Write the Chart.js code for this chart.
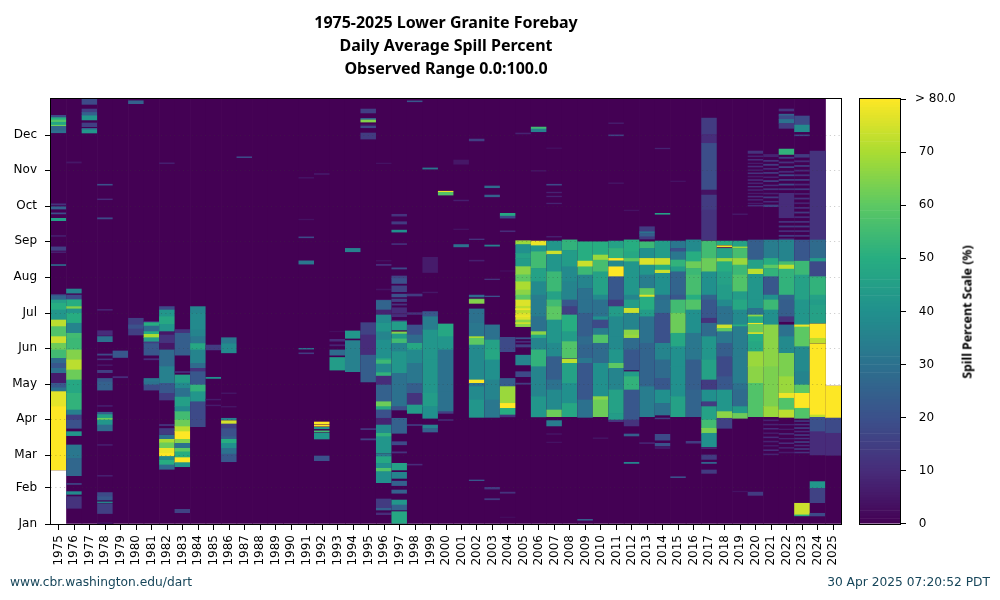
<!DOCTYPE html>
<html>
<head>
<meta charset="utf-8">
<title>Lower Granite Forebay Spill Percent</title>
<script src="https://cdn.jsdelivr.net/npm/chart.js@4"></script>
<style>
    html, body { margin: 0; background: #fff; }
    #wrap { position: relative; width: 1000px; height: 600px; overflow: hidden; }
    canvas { position: absolute; }
    .foot { position: absolute; top: 574.5px; font: 12.25px "DejaVu Sans", sans-serif; color: #17465a; white-space: nowrap; }
    #scaleTitle { position: absolute; left: 967px; top: 311.5px; transform: translate(-50%, -50%) rotate(-90deg); font: bold 12.3px "Noto Sans", sans-serif; white-space: nowrap; }
</style>
</head>
<body>
<div id="wrap">
    <canvas id="heatmap" style="left:0;top:0;width:1000px;height:600px"></canvas>
    <canvas id="scaleBar" style="left:850px;top:80px;width:150px;height:460px"></canvas>
    <div id="scaleTitle">Spill Percent Scale (%)</div>
    <div class="foot" style="left:10px">www.cbr.washington.edu/dart</div>
    <div class="foot" style="right:10px">30 Apr 2025 07:20:52 PDT</div>
</div>
<script>
const titleLines = ["1975-2025 Lower Granite Forebay", "Daily Average Spill Percent", "Observed Range 0.0:100.0"];
const monthLabels = ["Jan", "Feb", "Mar", "Apr", "May", "Jun", "Jul", "Aug", "Sep", "Oct", "Nov", "Dec"];
const monthStarts = [0, 31, 59, 90, 120, 151, 181, 212, 243, 273, 304, 334];
const scaleTicks = [0, 10, 20, 30, 40, 50, 60, 70, 80];
const years = ["1975", "1976", "1977", "1978", "1979", "1980", "1981", "1982", "1983", "1984", "1985", "1986", "1987", "1988", "1989", "1990", "1991", "1992", "1993", "1994", "1995", "1996", "1997", "1998", "1999", "2000", "2001", "2002", "2003", "2004", "2005", "2006", "2007", "2008", "2009", "2010", "2011", "2012", "2013", "2014", "2015", "2016", "2017", "2018", "2019", "2020", "2021", "2022", "2023", "2024", "2025"];

// first and last day with a record, only 1975 and 2025 are short
const recordFrom = { 1975: 46.4 };
const recordTo = { 2025: 118.5 };

// each run is [from day, to day, spill percent], days not listed read 0
const spill1975 = [[349, 351, 18], [347, 349, 50], [345, 347, 58], [342.5, 345, 47], [341.5, 342.5, 62], [338, 341.5, 26], [336, 338, 30], [274, 275, 12], [270.5, 272.5, 25], [266.3, 267.2, 20], [260.5, 262.5, 45], [247, 247.8, 7], [235, 238, 15], [233, 233.8, 7], [222, 222.8, 30], [196, 197, 18], [192.4, 196, 26], [189.5, 192.4, 45], [183.8, 189.5, 50], [175.2, 183.8, 42], [169.5, 175.2, 72], [160.9, 169.5, 58], [155.2, 160.9, 74], [149.5, 155.2, 62], [142.3, 149.5, 55], [138, 142.3, 28], [133.7, 138, 22], [129.4, 133.7, 30], [120.8, 129.4, 6], [117, 120.8, 22], [113.7, 117, 30], [100.8, 113.7, 77], [46.4, 100.8, 80]];
const spill1976 = [[198.3, 201.8, 36], [193, 196.6, 18], [192.4, 193, 30], [186.7, 192.4, 50], [184.7, 186.7, 65], [181, 184.7, 42], [172.4, 181, 50], [163.8, 172.4, 36], [159.5, 163.8, 55], [149.5, 159.5, 54], [140.9, 149.5, 65], [132.3, 140.9, 72], [123.7, 132.3, 62], [112.2, 123.7, 48], [97.9, 112.2, 52], [93.6, 97.9, 35], [89.3, 93.6, 15], [82.2, 89.3, 20], [75.9, 79.3, 42], [56.4, 67.9, 32], [41.5, 56.4, 27], [34, 34.8, 18], [25.5, 27.8, 38], [13.5, 23.5, 12], [310, 311, 5]];
const spill1977 = [[360.4, 365, 18], [353.5, 356.4, 15], [350.6, 353.5, 25], [347, 350.6, 42], [341.2, 344.4, 15], [338.6, 339.8, 25], [335.8, 338.6, 42]];
const spill1978 = [[291, 291.8, 20], [278.5, 279.2, 10], [262, 263, 18], [183.5, 184.4, 8], [162, 166, 10], [156.6, 161, 30], [145, 146, 18], [141, 141.8, 12], [136, 136.8, 5], [130, 132, 15], [122, 125, 22], [115, 122, 25], [101, 101.8, 7], [94, 96, 25], [90.8, 94, 45], [89.3, 90.8, 62], [85, 89.3, 42], [80, 85, 28], [67.5, 68.3, 7], [41, 41.8, 7], [23.5, 27, 18], [20.6, 23.5, 22], [18, 19, 36], [9, 17, 15], [0.3, 1, 5]];
const spill1979 = [[143, 148.6, 22], [125.6, 126.6, 10]];
const spill1980 = [[361, 363.5, 25], [162.3, 176.7, 15], [168, 171, 20]];
const spill1981 = [[172.8, 174, 10], [170, 173, 50], [165.2, 170, 28], [162.9, 165.2, 50], [160, 162.9, 70], [156.4, 160, 45], [155, 156.4, 15], [145, 155, 22], [141, 142, 10], [122, 125, 32], [119.4, 122, 30], [115, 119.4, 18]];
const spill1982 = [[309.4, 310.2, 7], [184.6, 186.3, 12], [183.8, 186.7, 18], [165.2, 183.8, 42], [172, 178, 48], [162.3, 165.2, 5], [155.2, 162.3, 12], [149.5, 155.2, 5], [135.1, 149.5, 28], [120.8, 135.1, 35], [112.2, 120.8, 22], [106.5, 112.2, 14], [84.5, 85.5, 12], [77, 82, 14], [72.7, 76.4, 30], [69.7, 72.7, 70], [65, 69.7, 62], [60.7, 65, 78], [58, 60.7, 80], [54.7, 58, 38], [50.7, 54.7, 50], [47, 50.7, 28]];
const spill1983 = [[163.8, 167, 12], [145, 163.8, 24], [130, 131, 10], [121, 128, 45], [116.5, 121, 38], [109, 116.5, 30], [100.8, 109, 45], [96.5, 100.8, 38], [89.3, 96.5, 55], [83.6, 89.3, 62], [79.3, 83.6, 72], [72.7, 79.3, 80], [69.3, 72.7, 65], [65, 69.3, 30], [62, 65, 60], [57, 62, 50], [52.7, 57, 80], [49.2, 52.7, 42], [9.7, 12.6, 16]];
const spill1984 = [[181, 186.7, 36], [166.6, 181, 38], [160.9, 166.6, 36], [155, 160.9, 32], [149.5, 155, 48], [138, 149.5, 36], [133.7, 138, 28], [130.8, 133.7, 12], [119.4, 130.8, 22], [113.6, 119.4, 52], [105, 113.6, 42], [83.6, 105, 18]];
const spill1985 = [[149.5, 153.7, 14], [125, 126, 40], [106.5, 107.2, 6], [101.5, 102.2, 6]];
const spill1986 = [[155, 160, 32], [147, 155, 38], [112, 112.6, 5], [100.4, 101, 5], [89.3, 90.8, 35], [85.9, 88.7, 75], [82, 85.9, 15], [75, 82, 20], [72.7, 75, 24], [69.3, 72.7, 50], [65, 69.3, 40], [60, 65, 30], [53.5, 60, 22]];
const spill1987 = [[314.6, 315.4, 18]];
const spill1988 = [];
const spill1989 = [];
const spill1990 = [];
const spill1991 = [[297, 297.6, 5], [261.2, 261.8, 4], [245.8, 246.6, 18], [223.2, 226, 32], [150.2, 150.9, 30], [146.2, 147, 14]];
const spill1992 = [[300.2, 301, 6], [85.9, 87.6, 80], [84, 85, 80], [81.8, 83, 42], [79, 80, 55], [73, 78, 42], [54.4, 58.4, 20]];
const spill1993 = [[165, 165.6, 3], [157, 158.6, 10], [153, 154, 8], [145, 149.5, 28], [132.2, 143, 44]];
const spill1994 = [[233.8, 236.7, 35], [159.5, 165.8, 42], [130.8, 157.5, 35]];
const spill1995 = [[353, 356.4, 15], [347, 348.4, 25], [345.2, 347, 65], [342.4, 343, 5], [340.3, 341.8, 18], [330.6, 335.8, 14], [162.3, 172.9, 16], [145, 162.3, 10], [122, 145, 24], [81, 82, 12], [72.2, 73.2, 16]];
const spill1996 = [[309.4, 310, 4], [225.8, 226.4, 4], [222, 223, 10], [201, 201.8, 4], [191.8, 192.4, 10], [189.5, 192, 26], [183.8, 189.5, 26], [179.5, 183.8, 8], [172.4, 179.5, 38], [165, 172.4, 42], [158, 165, 36], [142.3, 158, 40], [140.9, 142.3, 46], [137.4, 140.9, 54], [130, 137.4, 38], [127, 130, 52], [119.4, 127, 10], [105, 119.4, 25], [100.8, 105, 62], [98, 100.8, 48], [90.8, 98, 20], [85, 90.8, 8], [77.9, 85, 38], [75, 77.9, 52], [60.7, 75, 42], [57.8, 60, 32], [52, 57.8, 48], [47.8, 52, 40], [45, 47.8, 58], [35.5, 45, 40], [13.5, 21.5, 14], [12, 13.5, 25], [8, 9.5, 10]];
const spill1997 = [[264.4, 266, 12], [257.6, 259.6, 14], [250.7, 252.4, 40], [240, 240.8, 12], [219, 220, 18], [210.9, 213, 16], [206.6, 210.9, 20], [199.5, 204.5, 16], [195, 197.4, 20], [191, 193.2, 15], [188, 189, 12], [180.9, 185.7, 10], [178, 180, 10], [174, 175, 10], [166.6, 173.8, 44], [163.2, 165, 65], [159, 163.2, 44], [155.2, 159, 55], [148, 155.2, 36], [129.4, 148, 42], [100.8, 129.4, 30], [97.9, 100.8, 20], [77.9, 90.8, 25], [68, 70.7, 18], [61, 62, 12], [46.4, 52.1, 46], [39.2, 44.4, 36], [33, 36.8, 25], [26.4, 29.2, 25], [16.3, 20.6, 42], [12, 16.3, 25], [0.6, 10.6, 48]];
const spill1998 = [[362.6, 363.4, 22], [195.8, 197.5, 14], [180, 181.5, 12], [162.3, 170.9, 20], [155.2, 162.3, 28], [149.5, 155.2, 48], [138, 149.5, 38], [120.8, 138, 32], [112.2, 120.8, 24], [102.2, 112.2, 12], [95, 102.2, 44], [84.6, 85.4, 15], [50.6, 51.4, 10]];
const spill1999 = [[304.8, 305.8, 32], [216, 229, 6], [198.5, 199.2, 5], [179, 182, 10], [178, 182.4, 22], [166.6, 178, 34], [140.9, 166.6, 42], [112.2, 140.9, 42], [100.8, 112.2, 44], [90.8, 100.8, 40], [82, 85, 35], [79, 81.6, 25]];
const spill2000 = [[284.8, 285.8, 78], [282.5, 284.8, 58], [160.9, 171.8, 48], [149.5, 160.9, 42], [113.6, 149.5, 30], [96.5, 113.6, 30], [95, 96.5, 15], [89, 89.6, 12]];
const spill2001 = [[309, 312.6, 5], [277.5, 278.2, 7], [252.8, 253.4, 4], [238, 240, 30]];
const spill2002 = [[329, 330.6, 15], [244.2, 244.8, 12], [225.8, 226.6, 7], [195, 196.6, 28], [192.4, 193.2, 60], [189.5, 192.4, 65], [172.4, 184.7, 30], [160.9, 172.4, 32], [159.5, 160.9, 70], [153.7, 159.5, 60], [123.7, 153.7, 38], [120.8, 123.7, 80], [118, 120.8, 30], [106.5, 118, 38], [91.6, 106.5, 42], [37.2, 37.8, 22]];
const spill2003 = [[288.8, 290.3, 28], [281, 282.5, 25], [238.6, 239.6, 35], [209.8, 210.4, 12], [195.2, 195.8, 20], [158, 171, 30], [149.5, 158, 46], [140.9, 149.5, 48], [123.7, 140.9, 40], [106.5, 123.7, 36], [91.6, 106.5, 32], [30, 31.5, 14], [20.8, 21.8, 14]];
const spill2004 = [[264.4, 266.8, 48], [262.7, 264.4, 18], [251, 251.8, 10], [217, 217.6, 3], [148, 160.3, 18], [118, 125, 24], [103.6, 118, 68], [99.3, 103.6, 80], [93.6, 99.3, 50], [92, 93.6, 12], [26.4, 27.4, 12], [5.5, 6, 3]];
const spill2005 = [[335, 335.8, 8], [240, 243.3, 68], [232.4, 240, 40], [228, 232.4, 46], [221, 228, 44], [214, 221, 66], [208, 214, 60], [201, 208, 70], [196.6, 201, 66], [192.4, 196.6, 60], [187, 192.4, 76], [181, 187, 72], [175.2, 181, 76], [169.5, 175.2, 66], [184, 185, 78], [178, 179, 78], [172, 173, 74], [159, 160, 20], [156, 157, 10], [152, 154, 15], [136.6, 145, 36], [126.5, 130.8, 18], [120, 121, 14]];
const spill2006 = [[339.2, 340.9, 55], [336.9, 339.2, 35], [303, 303.6, 5], [239, 243, 78], [233.8, 239, 42], [219.5, 233.8, 55], [208.1, 219.5, 46], [196.6, 208.1, 38], [192.4, 196.6, 34], [178, 192.4, 34], [165.2, 178, 30], [162.3, 165.2, 66], [159.5, 162.3, 48], [149.5, 159.5, 36], [135.1, 149.5, 52], [109.4, 135.1, 36], [92, 109.4, 42]];
const spill2007 = [[291, 291.8, 18], [284.4, 285, 8], [281, 281.6, 8], [275, 275.6, 8], [322.5, 323, 4], [246.4, 247, 8], [234.4, 243, 42], [231.5, 234.4, 74], [216.6, 231.5, 42], [199.5, 216.6, 54], [192.4, 199.5, 46], [186.7, 192.4, 55], [175.2, 186.7, 60], [155.2, 175.2, 42], [143.7, 155.2, 38], [123.7, 143.7, 24], [115.1, 123.7, 30], [97.9, 115.1, 38], [92.2, 97.9, 62], [84.2, 88.8, 34], [77, 77.6, 5], [69.8, 70.4, 4]];
const spill2008 = [[235, 244, 52], [220.9, 235, 44], [208.1, 220.9, 38], [192.4, 208.1, 36], [186.7, 192.4, 22], [179.5, 186.7, 15], [165.2, 179.5, 50], [156.6, 165.2, 44], [142.3, 156.6, 58], [138, 141.4, 72], [120.8, 138, 46], [103.6, 120.8, 40], [92.2, 103.6, 48]];
const spill2009 = [[225.8, 242.4, 50], [220.9, 225.8, 74], [213.8, 220.9, 54], [202.3, 213.8, 36], [192.4, 202.3, 30], [181, 192.4, 30], [160.9, 181, 24], [153.7, 160.9, 28], [142.3, 153.7, 26], [138, 142.3, 32], [106.5, 138, 22], [91.6, 106.5, 30], [3.2, 4, 24]];
const spill2010 = [[231, 242.4, 50], [226.6, 231, 68], [216.6, 226.6, 56], [196.6, 216.6, 46], [192.4, 196.6, 38], [178, 192.4, 30], [175.2, 178, 40], [168, 175.2, 18], [162.3, 168, 34], [155.2, 162.3, 58], [138, 155.2, 28], [109.4, 138, 40], [106.5, 109.4, 66], [92.2, 106.5, 62], [73.4, 74, 5]];
const spill2011 = [[343.8, 344.6, 6], [333.4, 334.2, 16], [292.4, 293, 5], [236.7, 243, 46], [228.1, 236.7, 52], [226, 228.1, 80], [220.9, 226, 38], [212.4, 220.9, 80], [192.4, 212.4, 22], [186.7, 192.4, 14], [178, 186.7, 44], [160.9, 178, 38], [149.5, 160.9, 38], [138, 149.5, 42], [133.7, 138, 60], [115.1, 133.7, 36], [95, 115.1, 46], [89.3, 95, 44], [87.9, 89.3, 12]];
const spill2012 = [[269, 269.6, 4], [233.8, 244, 50], [228.1, 233.8, 48], [225.3, 228.1, 60], [196.6, 225.3, 42], [192.4, 196.6, 36], [185.2, 192.4, 44], [181, 185.2, 74], [166.6, 181, 36], [162.3, 166.6, 66], [159.5, 162.3, 68], [149.5, 159.5, 28], [132.3, 149.5, 22], [126.5, 130.8, 44], [115.1, 126.5, 52], [89.3, 115.1, 22], [84.2, 89.3, 12], [75.6, 77.3, 24], [52, 53, 36]];
const spill2013 = [[251, 255.3, 14], [249.6, 251, 30], [246.7, 249.6, 24], [244.7, 246.7, 14], [236.7, 242.4, 54], [228.1, 236.7, 40], [222.4, 228.1, 76], [213.8, 222.4, 42], [202.3, 213.8, 34], [196.6, 202.3, 60], [194.9, 196.6, 76], [192.4, 194.9, 50], [183.8, 192.4, 50], [178, 183.8, 44], [155.2, 178, 30], [118, 155.2, 26], [92.2, 118, 34], [69.2, 69.8, 10]];
const spill2014 = [[322.2, 322.8, 8], [266, 266.8, 46], [228.1, 243, 44], [222.4, 228.1, 74], [218, 222.4, 50], [215.3, 218, 74], [196.6, 215.3, 40], [192.4, 196.6, 28], [181, 192.4, 30], [155.2, 181, 20], [140.9, 155.2, 36], [125.1, 140.9, 28], [115.1, 125.1, 22], [103.6, 115.1, 40], [93.6, 103.6, 30], [90.3, 91, 14], [72, 77, 18], [67, 69.3, 20], [65, 65.6, 8]];
const spill2015 = [[294, 294.6, 4], [236.7, 243, 32], [233.8, 236.7, 20], [226.7, 233.8, 32], [220.9, 226.7, 52], [216.6, 220.9, 44], [196.6, 216.6, 26], [192.4, 196.6, 22], [181, 192.4, 55], [163.8, 181, 62], [152.3, 163.8, 48], [135.1, 152.3, 40], [109.4, 135.1, 40], [92.2, 109.4, 46], [39.8, 40.6, 20]];
const spill2016 = [[233.8, 244, 38], [225.3, 233.8, 50], [219.5, 225.3, 62], [213.8, 219.5, 54], [196.6, 213.8, 56], [192.4, 196.6, 50], [183.8, 192.4, 58], [163.8, 183.8, 40], [140.9, 163.8, 32], [115.1, 140.9, 24], [92.2, 115.1, 26], [69.4, 71, 14]];
const spill2017 = [[334.6, 348.6, 14], [326.9, 334.6, 10], [286.8, 326.9, 19], [282.5, 286.8, 4], [269.6, 282.5, 14], [243.9, 269.6, 12], [228.1, 243, 55], [216.6, 228.1, 62], [196.6, 216.6, 40], [192.4, 196.6, 26], [176.7, 192.4, 22], [172.4, 176.7, 12], [160.9, 172.4, 28], [140.9, 160.9, 42], [123.7, 140.9, 46], [115.1, 123.7, 14], [105, 115.1, 40], [100.8, 105, 14], [89.3, 100.8, 46], [82.2, 89.3, 55], [77.9, 82.2, 64], [66.4, 77.9, 40], [64.8, 65.6, 10], [55.5, 59.3, 14], [52, 53, 26], [43.5, 46.4, 14]];
const spill2018 = [[239.8, 243, 50], [238, 239, 78], [228.1, 236.7, 46], [225.3, 228.1, 68], [216.6, 225.3, 50], [205.2, 216.6, 46], [192.4, 205.2, 44], [186.7, 192.4, 38], [171, 186.7, 30], [168, 171, 74], [165.2, 168, 60], [155.2, 165.2, 32], [143.7, 155.2, 24], [126.5, 143.7, 18], [115.1, 126.5, 22], [96.5, 115.1, 42], [90.8, 96.5, 66], [82.2, 90.8, 16]];
const spill2019 = [[265.6, 266.4, 5], [238.1, 243, 46], [237, 238, 68], [228.1, 236.7, 56], [222.4, 228.1, 68], [213.8, 222.4, 54], [199.5, 213.8, 58], [192.4, 199.5, 44], [183.8, 192.4, 48], [171, 183.8, 38], [169.5, 171, 50], [143.7, 169.5, 34], [120.8, 143.7, 34], [115.1, 120.8, 30], [100.8, 115.1, 28], [95, 100.8, 44], [90.8, 95, 62], [27.6, 28.2, 4]];
const spill2020 = [[318.3, 320.3, 12], [315.4, 316.2, 8], [312.4, 313.2, 10], [309.4, 310, 6], [306.6, 307.4, 10], [303.6, 304.2, 8], [300.8, 301.6, 12], [298, 298.8, 6], [295, 295.8, 10], [292.2, 293, 8], [289.4, 290, 12], [286.4, 287.2, 8], [283.6, 284.2, 6], [280.8, 281.6, 10], [278, 278.8, 8], [275, 275.6, 6], [273, 273.8, 10], [226.7, 243.9, 24], [218.9, 226.7, 46], [214.4, 218.9, 72], [192.4, 214.4, 42], [185.2, 192.4, 42], [179.5, 185.2, 30], [178, 179.5, 66], [172.4, 178, 50], [171.5, 172.4, 78], [164.5, 171.5, 62], [162.9, 164.5, 74], [156.6, 162.9, 50], [148, 156.6, 48], [135.1, 148, 68], [120.8, 135.1, 66], [106.5, 120.8, 58], [92.2, 106.5, 58], [24.6, 27.4, 14]];
const spill2021 = [[315.4, 317.4, 8], [311.4, 312.4, 12], [308, 309, 14], [304.6, 305.4, 10], [301, 302, 13], [297.4, 298.2, 8], [294, 295, 14], [290.4, 291.2, 10], [287, 288, 12], [283.4, 284.2, 8], [280, 281, 14], [276.4, 277.2, 10], [272.5, 274, 16], [228.1, 243.9, 34], [222.4, 228.1, 50], [219.5, 222.4, 60], [212.4, 219.5, 52], [196.6, 212.4, 22], [192.4, 196.6, 40], [183.8, 192.4, 54], [171, 183.8, 40], [135.1, 171, 66], [100.8, 135.1, 64], [92.2, 100.8, 68], [88.6, 89.4, 8], [85, 85.8, 8], [81.4, 82.2, 10], [77.6, 78.4, 6], [74, 74.8, 10], [70.4, 71.2, 8], [66.8, 67.6, 6], [63, 63.8, 10], [59.4, 60.2, 8]];
const spill2022 = [[354.7, 356.4, 12], [350.5, 352, 26], [347.5, 350.5, 18], [344, 347.5, 30], [339.8, 344, 14], [317.4, 322, 52], [314, 315, 14], [310, 311, 12], [306, 307, 16], [302, 303, 10], [299, 300, 18], [295, 296, 14], [291, 292, 18], [287, 288, 12], [274, 284, 10], [263, 274, 10], [259, 260, 12], [255, 256, 14], [251, 252, 10], [247, 248, 14], [243.9, 245, 10], [225.3, 243.9, 36], [222.4, 225.3, 56], [218.9, 222.4, 72], [196.6, 218.9, 52], [192.4, 196.6, 26], [178, 192.4, 24], [173.8, 178, 12], [160.9, 171, 30], [146.6, 160.9, 38], [126.5, 146.6, 64], [112.2, 126.5, 68], [108, 112.2, 78], [97.9, 108, 58], [91.6, 97.9, 72], [85, 85.6, 8], [81, 81.6, 6], [77, 77.8, 10], [73, 73.6, 8], [69, 69.8, 10], [65, 65.8, 8], [61, 61.8, 6]];
const spill2023 = [[342.6, 350.4, 18], [336.9, 342.6, 38], [333.4, 334.2, 18], [315, 317.4, 14], [311, 312, 10], [307, 308, 14], [303, 304, 10], [299, 300, 12], [295, 296, 14], [291, 292, 10], [287, 288, 14], [283, 284, 8], [279, 280, 12], [275, 276, 8], [271, 272, 10], [267, 268, 14], [263, 264, 10], [259, 260, 12], [255, 256, 14], [251, 252, 10], [247, 248, 12], [225.7, 243.9, 22], [213.8, 225.7, 54], [192.4, 213.8, 46], [183.8, 192.4, 42], [171, 183.8, 42], [169.2, 171, 78], [152.3, 169.2, 60], [130.8, 152.3, 38], [119.4, 130.8, 36], [112.2, 119.4, 60], [99.4, 112.2, 80], [90.8, 99.4, 58], [88, 88.8, 14], [85, 85.8, 12], [82, 82.8, 16], [79, 79.8, 10], [76, 76.8, 14], [73, 73.8, 12], [70, 70.8, 16], [67, 67.8, 10], [64, 64.8, 14], [61, 61.8, 12], [7.8, 17.8, 74], [7, 7.8, 50]];
const spill2024 = [[243.9, 320.3, 12], [228.1, 243.9, 28], [225.3, 228.1, 44], [212.4, 225.3, 18], [196.6, 212.4, 52], [192.4, 196.6, 46], [188, 192.4, 44], [172.4, 188, 46], [159.5, 171.8, 80], [155.2, 159.5, 72], [93.6, 154.6, 80], [91.6, 93.6, 72], [79.3, 91.6, 20], [59.3, 79.3, 10], [30.6, 36.4, 42], [18.3, 30.6, 16], [6.9, 9.2, 18]];
const spill2025 = [[91, 118.5, 80], [77.9, 91, 18], [59, 77.9, 10]];

const spillByYear = [spill1975, spill1976, spill1977, spill1978, spill1979, spill1980, spill1981, spill1982, spill1983, spill1984, spill1985, spill1986, spill1987, spill1988, spill1989, spill1990, spill1991, spill1992, spill1993, spill1994, spill1995, spill1996, spill1997, spill1998, spill1999, spill2000, spill2001, spill2002, spill2003, spill2004, spill2005, spill2006, spill2007, spill2008, spill2009, spill2010, spill2011, spill2012, spill2013, spill2014, spill2015, spill2016, spill2017, spill2018, spill2019, spill2020, spill2021, spill2022, spill2023, spill2024, spill2025];

// viridis stops, one per 10 percent
const viridis = [[68, 1, 84], [71, 44, 122], [59, 81, 139], [44, 113, 142], [33, 144, 141], [39, 173, 129], [92, 200, 99], [170, 220, 50], [253, 231, 37]];

function spillColor(pct) {
    const p = Math.min(pct, 80) / 10;
    const i = Math.min(Math.floor(p), 7);
    const t = p - i;
    const c = viridis[i].map((v, k) => Math.round(v + (viridis[i + 1][k] - v) * t));
    return "rgb(" + c.join(",") + ")";
}

// the plot frame has all four sides
const framePlugin = {
    id: "frame",
    afterDraw(chart) {
        const a = chart.chartArea, ctx = chart.ctx;
        ctx.save();
        ctx.strokeStyle = "#000";
        ctx.lineWidth = 1;
        ctx.strokeRect(Math.round(a.left) - 0.5, Math.round(a.top) - 0.5, Math.round(a.right - a.left) + 1, Math.round(a.bottom - a.top) + 1);
        ctx.restore();
    }
};

// one bar per run, a purple base bar first for the days that read 0
const cells = [];
const cellColors = [];
years.forEach((year, i) => {
    cells.push({ x: year, y: [recordFrom[year] || 0, recordTo[year] || 365] });
    cellColors.push(spillColor(0));
    spillByYear[i].forEach(run => {
        cells.push({ x: year, y: [run[0], run[1]] });
        cellColors.push(spillColor(run[2]));
    });
});

const tickFont = { family: "DejaVu Sans", size: 12 };

new Chart(document.getElementById("heatmap"), {
    type: "bar",
    data: {
        labels: years,
        datasets: [{
            data: cells,
            backgroundColor: cellColors,
            borderWidth: 0,
            grouped: false,
            barPercentage: 1,
            categoryPercentage: 1
        }]
    },
    options: {
        responsive: false,
        animation: false,
        layout: { padding: { right: 159 } },
        plugins: {
            legend: { display: false },
            tooltip: { enabled: false },
            title: {
                display: true,
                text: titleLines,
                fullSize: false,
                color: "#000",
                font: { family: "Noto Sans", size: 16, weight: "bold", lineHeight: 1.4375 },
                padding: { top: 12, bottom: 18 }
            }
        },
        scales: {
            x: {
                offset: true,
                grid: { offset: false, drawOnChartArea: false, tickColor: "#000", tickLength: 6 },
                border: { display: false },
                ticks: { color: "#000", font: tickFont, maxRotation: 90, minRotation: 90, autoSkip: false, padding: 5 },
                afterFit(s) { s.height = 76; }
            },
            y: {
                min: 0,
                max: 365,
                grid: { color: "rgba(60,60,60,0.3)", tickColor: "#000", tickLength: 6, z: 1 },
                border: { display: false, dash: [1, 3.4] },
                ticks: { color: "#000", font: tickFont, padding: 8, autoSkip: false, callback: v => monthLabels[monthStarts.indexOf(v)] },
                afterBuildTicks(s) { s.ticks = monthStarts.map(v => ({ value: v })); },
                afterFit(s) { s.width = 51; }
            }
        }
    },
    plugins: [framePlugin]
});

// colour scale, half percent steps so it reads as a smooth ramp
const scaleCells = [];
const scaleColors = [];
for (let v = 0; v < 80; v += 0.5) {
    scaleCells.push({ x: "scale", y: [v, v + 0.5] });
    scaleColors.push(spillColor(v + 0.25));
}

new Chart(document.getElementById("scaleBar"), {
    type: "bar",
    data: {
        labels: ["scale"],
        datasets: [{
            data: scaleCells,
            backgroundColor: scaleColors,
            borderWidth: 0,
            grouped: false,
            barPercentage: 1,
            categoryPercentage: 1
        }]
    },
    options: {
        responsive: false,
        animation: false,
        layout: { padding: { left: 10, top: 19, bottom: 16, right: 0 } },
        plugins: { legend: { display: false }, tooltip: { enabled: false } },
        scales: {
            x: { display: false },
            y: {
                position: "right",
                min: 0,
                max: 80,
                grid: { drawOnChartArea: false, tickColor: "#000", tickLength: 6 },
                border: { display: false },
                ticks: { color: "#000", font: tickFont, padding: 9, autoSkip: false, callback: v => v === 80 ? "> 80.0" : " " + v },
                afterBuildTicks(s) { s.ticks = scaleTicks.map(v => ({ value: v })); },
                afterFit(s) { s.width = 100; }
            }
        }
    },
    plugins: [framePlugin]
});
</script>
</body>
</html>
